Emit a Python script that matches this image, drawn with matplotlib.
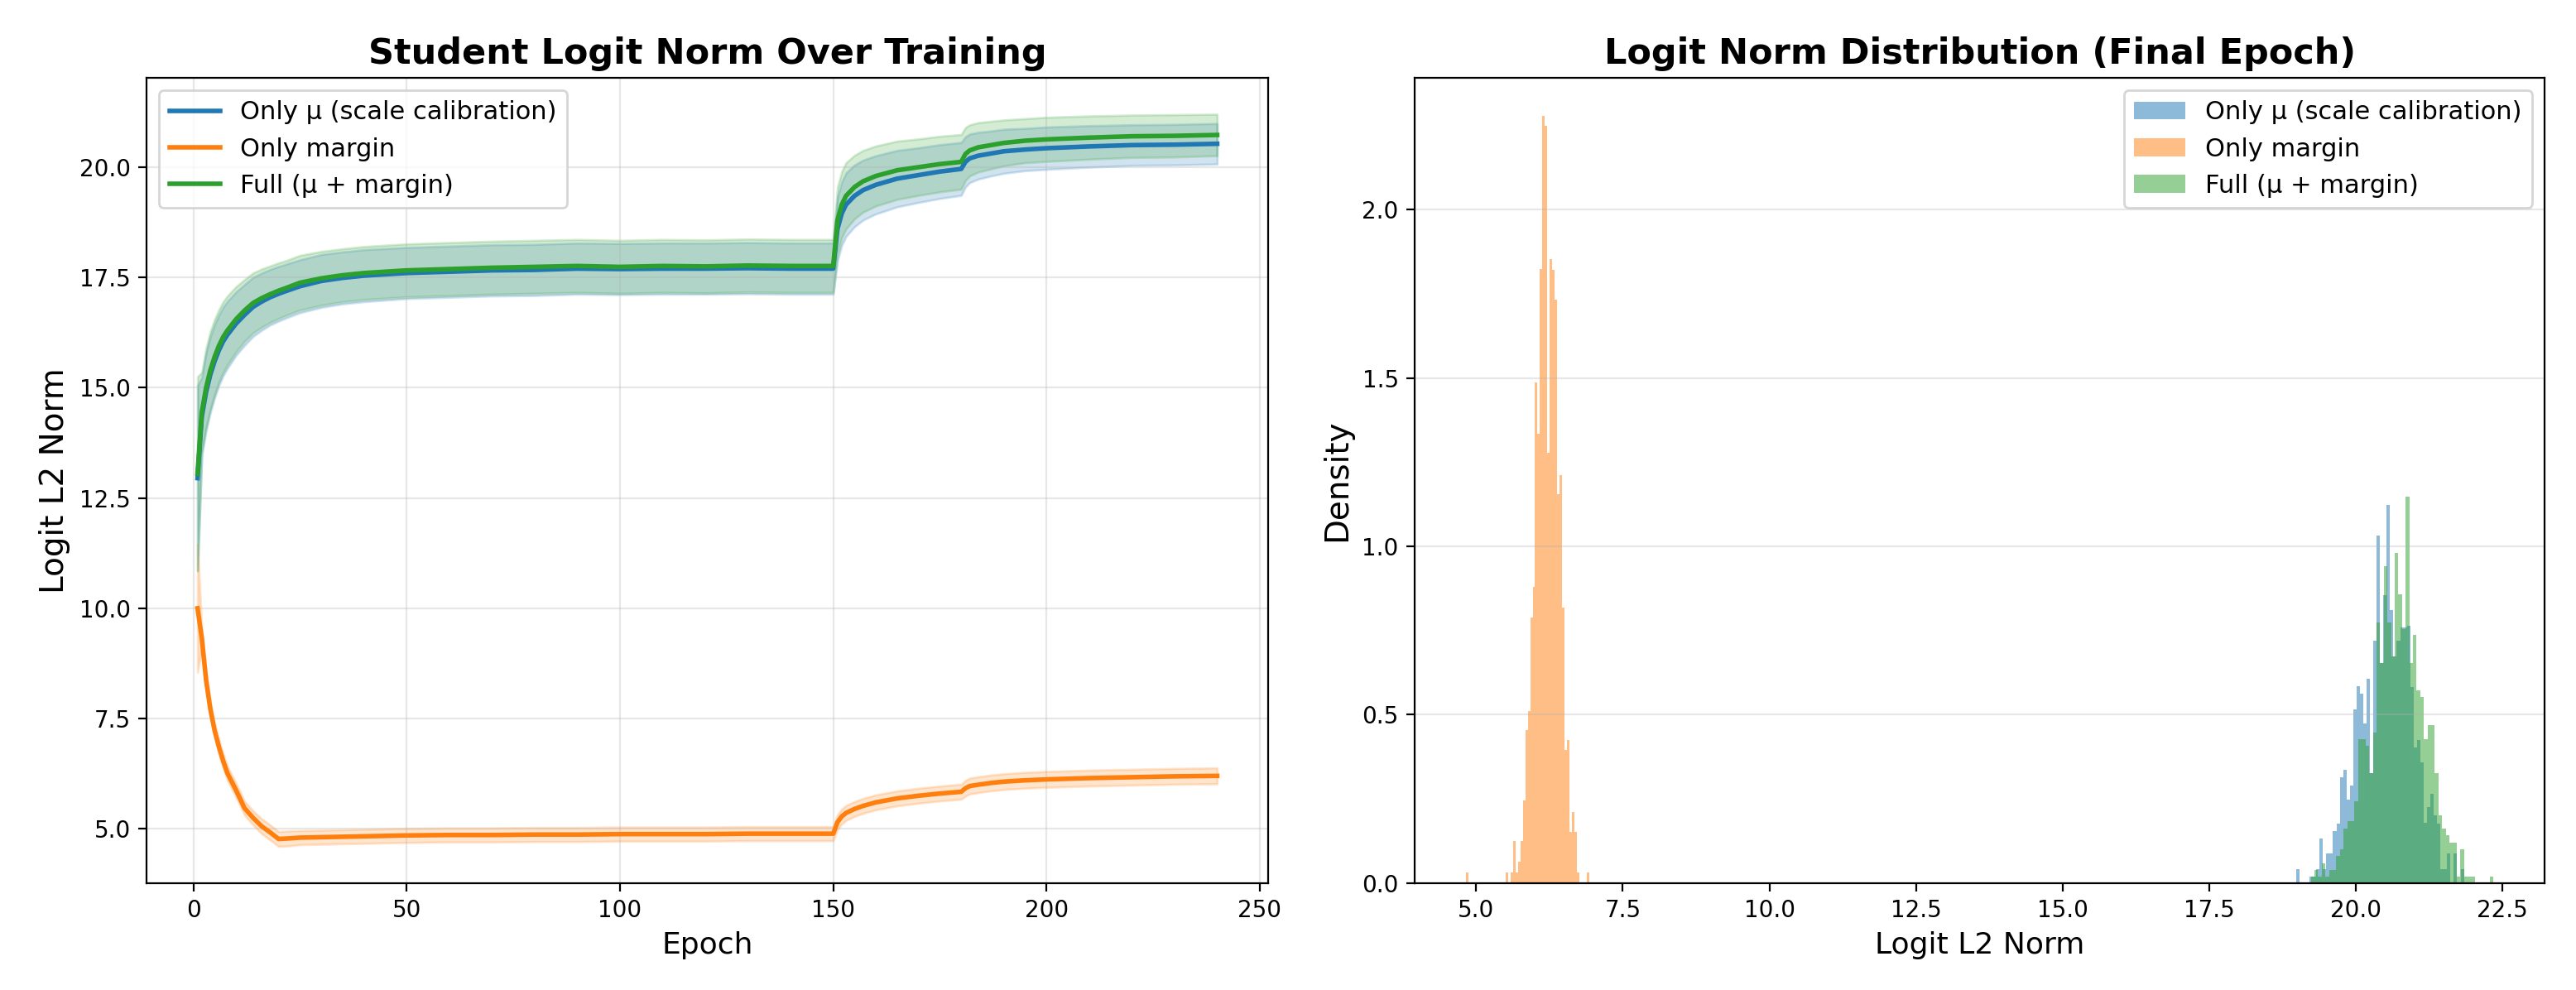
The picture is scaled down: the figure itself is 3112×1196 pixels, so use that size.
import numpy as np
import matplotlib
matplotlib.use('Agg')
import matplotlib.pyplot as plt

# ---- data ----
labels = ['Only μ (scale calibration)', 'Only margin', 'Full (μ + margin)']
colors = ['C0', 'C1', 'C2']

epochs = [1, 2, 3, 4, 5, 6, 7, 8, 10, 12, 14, 16, 18, 20, 22, 25, 30, 35, 40, 50,
          60, 70, 80, 90, 100, 110, 120, 130, 140, 150, 151, 152, 153, 155, 157, 160,
          165, 170, 175, 180, 181, 182, 184, 187, 190, 195, 200, 210, 220, 230, 240]

mu_mean = [12.95, 14.35, 14.9, 15.3, 15.6, 15.85, 16.05, 16.2, 16.45, 16.65, 16.83, 16.95,
           17.05, 17.13, 17.2, 17.3, 17.42, 17.49, 17.54, 17.6, 17.63, 17.66, 17.67, 17.7,
           17.69, 17.7, 17.7, 17.71, 17.7, 17.7, 18.6, 18.95, 19.15, 19.35, 19.48, 19.6,
           19.74, 19.82, 19.9, 19.96, 20.12, 20.2, 20.26, 20.31, 20.36, 20.4, 20.43, 20.47,
           20.5, 20.51, 20.53]
mu_std = [2.1, 0.88, 0.88, 0.86, 0.83, 0.8, 0.78, 0.76, 0.72, 0.69, 0.67, 0.65, 0.63, 0.62,
          0.61, 0.6, 0.6, 0.59, 0.59, 0.58, 0.58, 0.58, 0.58, 0.58, 0.58, 0.58, 0.58, 0.58,
          0.58, 0.58, 0.72, 0.72, 0.72, 0.7, 0.68, 0.66, 0.64, 0.62, 0.61, 0.6, 0.57, 0.55,
          0.53, 0.51, 0.5, 0.48, 0.48, 0.47, 0.46, 0.46, 0.46]

margin_mean = [10.0, 9.32, 8.37, 7.71, 7.23, 6.86, 6.54, 6.26, 5.88, 5.47, 5.25, 5.06,
               4.92, 4.77, 4.78, 4.8, 4.81, 4.82, 4.83, 4.85, 4.86, 4.86, 4.87, 4.87,
               4.88, 4.88, 4.88, 4.89, 4.89, 4.89, 5.15, 5.28, 5.36, 5.45, 5.52, 5.6,
               5.69, 5.75, 5.8, 5.84, 5.92, 5.97, 6.0, 6.04, 6.07, 6.1, 6.12, 6.15,
               6.17, 6.19, 6.2]
margin_std = [1.45, 0.2, 0.18, 0.17, 0.16, 0.16, 0.16, 0.16, 0.16, 0.16, 0.16, 0.17,
              0.17, 0.17, 0.17, 0.16, 0.16, 0.16, 0.16, 0.16, 0.16, 0.16, 0.16, 0.16,
              0.16, 0.16, 0.16, 0.16, 0.16, 0.16, 0.17, 0.17, 0.17, 0.17, 0.17, 0.17,
              0.17, 0.17, 0.17, 0.17, 0.18, 0.18, 0.18, 0.18, 0.18, 0.18, 0.18, 0.18,
              0.18, 0.18, 0.18]

full_mean = [13.05, 14.45, 15.0, 15.4, 15.7, 15.95, 16.15, 16.3, 16.55, 16.75, 16.92, 17.03,
             17.12, 17.2, 17.27, 17.38, 17.48, 17.55, 17.6, 17.66, 17.69, 17.72, 17.74, 17.76,
             17.74, 17.76, 17.75, 17.77, 17.76, 17.76, 18.8, 19.15, 19.35, 19.55, 19.68, 19.8,
             19.93, 20.0, 20.07, 20.12, 20.3, 20.38, 20.45, 20.5, 20.55, 20.6, 20.63, 20.67,
             20.7, 20.71, 20.73]
full_std = [2.2, 0.9, 0.9, 0.88, 0.85, 0.82, 0.8, 0.78, 0.74, 0.7, 0.68, 0.66, 0.64, 0.63,
            0.62, 0.62, 0.61, 0.6, 0.6, 0.6, 0.6, 0.6, 0.6, 0.6, 0.6, 0.6, 0.6, 0.6,
            0.6, 0.6, 0.75, 0.75, 0.75, 0.72, 0.7, 0.68, 0.66, 0.64, 0.63, 0.62, 0.6, 0.58,
            0.56, 0.54, 0.52, 0.5, 0.5, 0.49, 0.48, 0.48, 0.47]

# final-epoch histograms (50 bins each, density values)
mu_range = (18.98, 21.84)
mu_density = [0.041, 0, 0, 0, 0.02, 0.02, 0.041, 0.133, 0.041, 0.088,
              0.088, 0.155, 0.177, 0.314, 0.336, 0.247, 0.289, 0.515, 0.584, 0.562,
              0.473, 0.607, 0.326, 0.72, 1.033, 0.654, 0.855, 1.124, 0.81, 0.674,
              0.72, 0.76, 0.76, 0.763, 0.582, 0.402, 0.425, 0.358, 0.178, 0.225,
              0.265, 0.2, 0.177, 0.041, 0.041, 0.088, 0, 0.088, 0, 0.041]

margin_range = (4.83, 6.93)
margin_density = [0.032, 0, 0, 0, 0, 0, 0, 0, 0, 0,
                  0, 0, 0, 0, 0, 0, 0.032, 0, 0.032, 0.124,
                  0.032, 0.063, 0.124, 0.245, 0.455, 0.51, 0.789, 0.879, 1.487, 1.334,
                  1.823, 2.278, 2.248, 1.277, 1.853, 1.822, 1.732, 1.155, 1.212, 0.819,
                  0.395, 0.425, 0.152, 0.21, 0.152, 0.032, 0, 0, 0, 0.032]

full_range = (19.23, 22.34)
full_density = [0.02, 0.039, 0.02, 0.059, 0.02, 0.039, 0.039, 0.081, 0.1, 0.163,
                0.183, 0.183, 0.244, 0.428, 0.428, 0.408, 0.326, 0.448, 0.775, 0.654,
                0.941, 0.775, 0.674, 0.98, 0.857, 0.755, 1.147, 0.654, 0.736, 0.572,
                0.552, 0.428, 0.47, 0.47, 0.326, 0.202, 0.163, 0.143, 0.121, 0.121,
                0.02, 0.1, 0.02, 0.02, 0.02, 0, 0, 0, 0, 0.02]

means = [mu_mean, margin_mean, full_mean]
stds = [mu_std, margin_std, full_std]
hist_ranges = [mu_range, margin_range, full_range]
hist_dens = [mu_density, margin_density, full_density]

# ---- figure ----
fig = plt.figure(figsize=(15.56, 5.98), dpi=200)
ax1 = fig.add_axes([0.0569, 0.108, 0.4354, 0.8136])
ax2 = fig.add_axes([0.5492, 0.108, 0.4386, 0.8136])

# Left: logit norm over training
ep = np.array(epochs)
for m, s, lab, c in zip(means, stds, labels, colors):
    m = np.array(m)
    s = np.array(s)
    ax1.plot(ep, m, label=lab, color=c, linewidth=2)
    ax1.fill_between(ep, m - s, m + s, alpha=0.2, color=c)

ax1.set_xlabel('Epoch', fontsize=13)
ax1.set_ylabel('Logit L2 Norm', fontsize=14)
ax1.set_title('Student Logit Norm Over Training', fontsize=15.5, fontweight='bold')
ax1.legend(loc='upper left', fontsize=11)
ax1.grid(True, alpha=0.3)
ax1.tick_params(labelsize=10)

# Right: distribution at final epoch
for rng, dens, lab, c in zip(hist_ranges, hist_dens, labels, colors):
    edges = np.linspace(rng[0], rng[1], len(dens) + 1)
    centers = (edges[:-1] + edges[1:]) / 2
    ax2.hist(centers, bins=edges, weights=dens, alpha=0.5, color=c, label=lab)

ax2.set_xlabel('Logit L2 Norm', fontsize=13)
ax2.set_ylabel('Density', fontsize=14)
ax2.set_title('Logit Norm Distribution (Final Epoch)', fontsize=15.5, fontweight='bold')
ax2.legend(loc='upper right', fontsize=11)
ax2.grid(True, axis='y', alpha=0.3)
ax2.tick_params(labelsize=10)

plt.savefig('out.png', dpi=200)
